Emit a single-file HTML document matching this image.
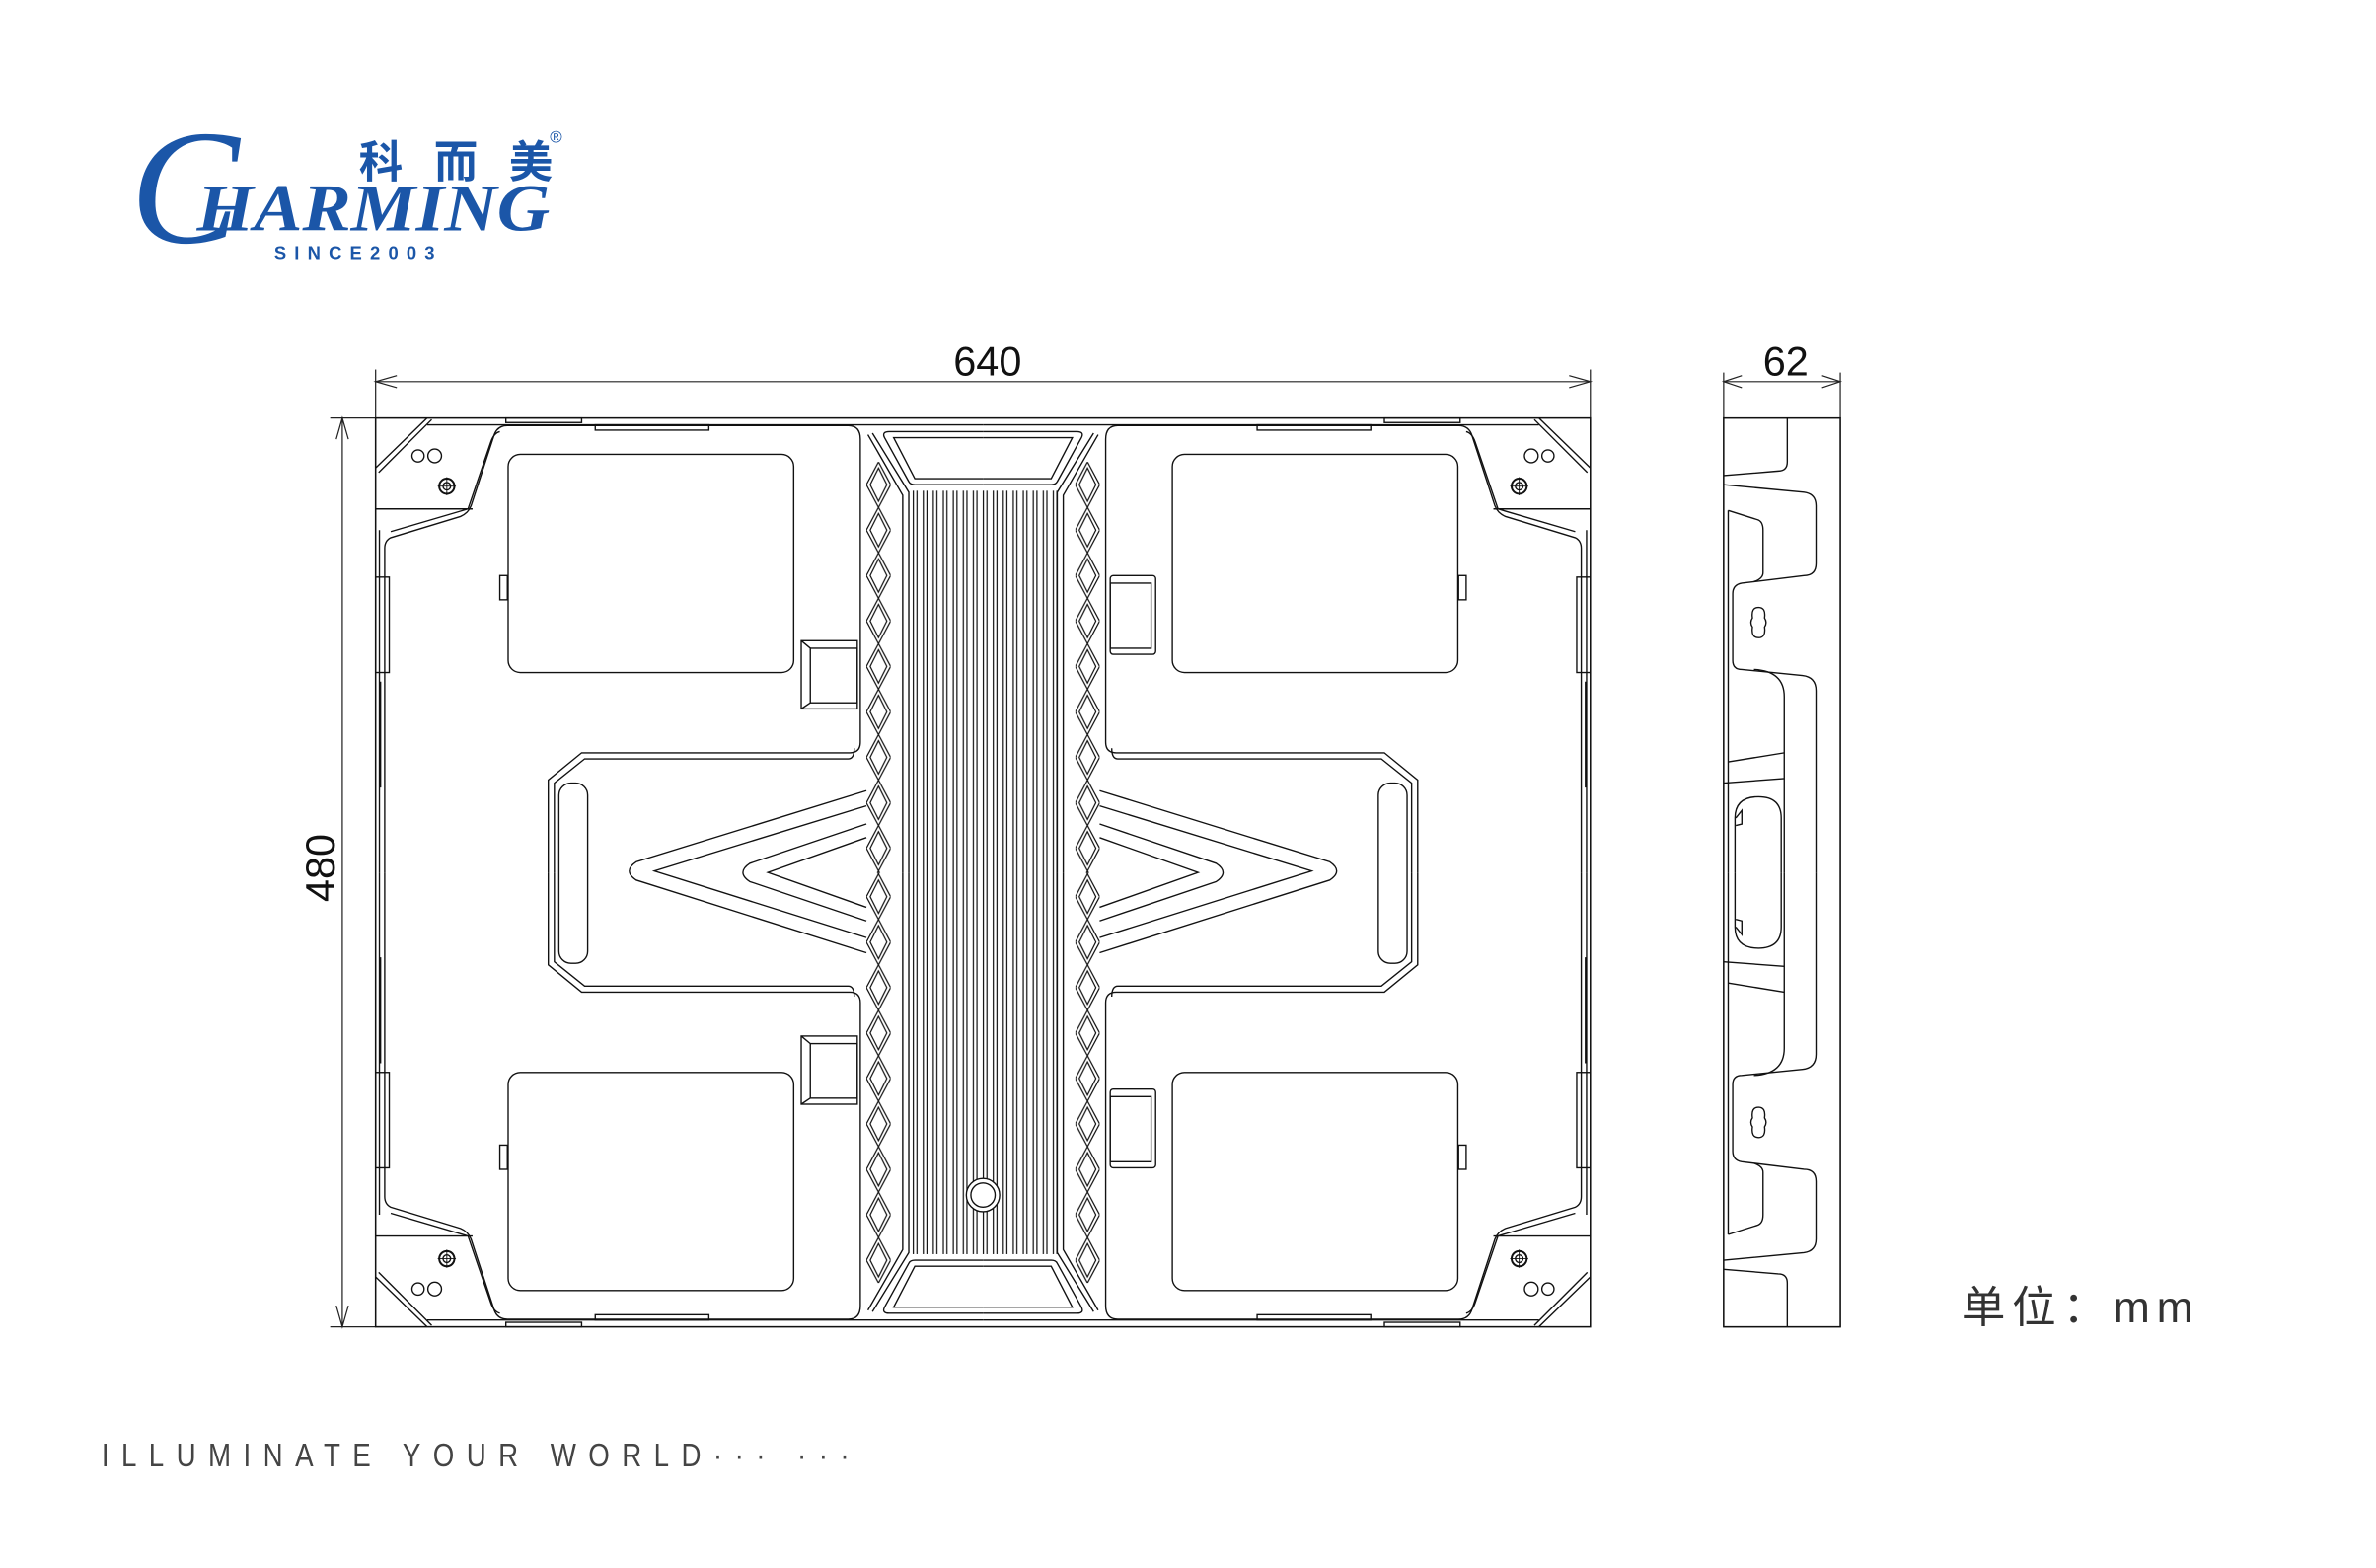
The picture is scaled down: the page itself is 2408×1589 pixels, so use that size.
<!DOCTYPE html>
<html><head><meta charset="utf-8"><style>
html,body{margin:0;padding:0;background:#fff;}
svg{display:block;}
</style></head><body>
<svg xmlns="http://www.w3.org/2000/svg" width="2408" height="1589" viewBox="0 0 1568.7 1035.2" preserveAspectRatio="none">
<defs>
<pattern id="zz" x="572" y="305" width="16" height="30" patternUnits="userSpaceOnUse">
<path d="M8,0 L16,15 L8,30 L0,15 Z M8,4 L13.5,15 L8,26 L2.5,15 Z" fill="none" stroke="#111" stroke-width="0.8"/>
</pattern>
<pattern id="fins" x="602" y="0" width="6.6" height="10" patternUnits="userSpaceOnUse">
<line x1="1" y1="0" x2="1" y2="10" stroke="#111" stroke-width="0.8"/>
<line x1="3.4" y1="0" x2="3.4" y2="10" stroke="#111" stroke-width="0.8"/>
</pattern>
<g id="quarter" fill="none" stroke="#111" stroke-width="0.9">
<path d="M362,576 V515 L384,497 L561,497 Q568,497 568,490 V290 Q568,281 560,281 L335,281 Q328,281 326,288 L311,334 Q309,339 304,341 L258,355 Q254,357 254,362 V576"/>
<path d="M366,576 V517 L386,501 L560,501 Q564,501 564,494" />
<path d="M330,285 Q326,286 324,292 L309,336 L258,351" />
<rect x="335.5" y="300" width="188.5" height="144" rx="8"/>
<rect x="330" y="380" width="5" height="16"/>
<line x1="248" y1="309" x2="282" y2="276"/>
<line x1="250" y1="312" x2="285" y2="277"/>
<line x1="248" y1="336" x2="312" y2="336"/>
<circle cx="276" cy="301" r="4"/>
<circle cx="287" cy="301" r="4.5"/>
<circle cx="295" cy="321" r="5" stroke-width="1.3"/>
<circle cx="295" cy="321" r="2.5"/>
<line x1="289" y1="321" x2="301" y2="321" stroke-width="0.6"/>
<line x1="295" y1="315" x2="295" y2="327" stroke-width="0.6"/>
<line x1="250.5" y1="350" x2="250.5" y2="576"/>
<rect x="248" y="381" width="9" height="63"/>
<line x1="251" y1="450" x2="251" y2="520" stroke-width="1.4"/>
<line x1="282" y1="280.5" x2="649" y2="280.5"/>
<rect x="393" y="280.5" width="75" height="3.5"/>
<rect x="334" y="276" width="50" height="3"/>
<path d="M573,287 L596,327 V576"/>
<path d="M576,286 L600,325 V576"/>
<rect x="572" y="305" width="16" height="271" fill="url(#zz)" stroke="none"/>
<path d="M649,285 H587 Q582,285 584,289 L600,318 Q601,320 604,320 H649"/>
<path d="M649,289 H590 L604,316 H649"/>
</g>
</defs>

<g fill="none" stroke="#222" stroke-width="0.8">
<line x1="248" y1="244" x2="248" y2="276"/>
<line x1="1050" y1="244" x2="1050" y2="276"/>
<line x1="248" y1="252" x2="1050" y2="252"/>
<polyline points="262,248 248,252 262,256"/>
<polyline points="1036,248 1050,252 1036,256"/>
<line x1="218" y1="276" x2="248" y2="276"/>
<line x1="218" y1="876" x2="248" y2="876"/>
<line x1="226" y1="276" x2="226" y2="876"/>
<polyline points="222,290 226,276 230,290"/>
<polyline points="222,862 226,876 230,862"/>
<line x1="1138" y1="246" x2="1138" y2="276"/>
<line x1="1215" y1="246" x2="1215" y2="276"/>
<line x1="1138" y1="252" x2="1215" y2="252"/>
<polyline points="1150,248 1138,252 1150,256"/>
<polyline points="1203,248 1215,252 1203,256"/>
</g>
<text x="652" y="248" font-family="Liberation Sans, DejaVu Sans, sans-serif" font-size="27" text-anchor="middle" fill="#111">640</text>
<text x="1179" y="248" font-family="Liberation Sans, DejaVu Sans, sans-serif" font-size="27" text-anchor="middle" fill="#111">62</text>
<text transform="translate(221,573) rotate(-90)" font-family="Liberation Sans, DejaVu Sans, sans-serif" font-size="27" text-anchor="middle" fill="#111">480</text>

<rect x="248" y="276" width="802" height="600" fill="none" stroke="#111" stroke-width="1"/>
<use href="#quarter"/>
<use href="#quarter" transform="translate(0,1152) scale(1,-1)"/>
<use href="#quarter" transform="translate(1298,0) scale(-1,1)"/>
<use href="#quarter" transform="translate(1298,1152) scale(-1,-1)"/>

<g fill="none" stroke="#111" stroke-width="0.9">
<rect x="602" y="324" width="96" height="504" fill="url(#fins)" stroke="none"/>
<circle cx="649" cy="789" r="11" fill="#fff"/>
<circle cx="649" cy="789" r="8"/>
<rect x="529" y="423" width="37" height="45"/><rect x="535" y="428" width="31" height="36"/>
<line x1="529" y1="423" x2="535" y2="428"/><line x1="529" y1="468" x2="535" y2="464"/>
<rect x="529" y="684" width="37" height="45"/><rect x="535" y="689" width="31" height="36"/>
<line x1="529" y1="684" x2="535" y2="689"/><line x1="529" y1="729" x2="535" y2="725"/>
<rect x="733" y="380" width="30" height="52" rx="2"/><rect x="733" y="385" width="27" height="43"/>
<rect x="733" y="719" width="30" height="52" rx="2"/><rect x="733" y="724" width="27" height="43"/>
<rect x="369" y="517" width="19" height="119" rx="8"/>
<rect x="910" y="517" width="19" height="119" rx="8"/>
<path d="M572,522 L420,569 Q411,575 420,581 L572,629"/>
<path d="M572,532 L432,575 L572,619"/>
<path d="M572,544 L495,570 Q486,576 495,582 L572,608"/>
<path d="M572,553 L507,576 L572,599"/>
<path d="M726,522 L878,569 Q887,575 878,581 L726,629"/>
<path d="M726,532 L866,575 L726,619"/>
<path d="M726,544 L803,570 Q812,576 803,582 L726,608"/>
<path d="M726,553 L791,576 L726,599"/>
</g>

<g id="sideTop" fill="none" stroke="#111" stroke-width="0.9">
<rect x="1138" y="276" width="77" height="600"/>
<path d="M1180,276 V305 Q1180,311 1174,311 L1138,314"/>
<path d="M1138,320 L1191,325 Q1199,326 1199,334 V372 Q1199,380 1191,380 L1150,385 Q1144,386 1144,392 V436 Q1144,442 1150,442 L1190,446 Q1199,447 1199,456 V576"/>
<path d="M1141,337 L1160,343 Q1164,344 1164,350 V378 Q1164,382 1158,384"/>
<path d="M1158,442 Q1178,443 1178,460 V576"/>
<line x1="1141" y1="337" x2="1141" y2="576"/>
<line x1="1141" y1="503" x2="1178" y2="497"/>
<line x1="1138" y1="517" x2="1178" y2="514"/>
<path d="M1145.5,576 V540 Q1145.5,526 1161,526 Q1176,526 1176,540 V576"/>
<path d="M1146,540 L1150,535 V544 L1146,545"/>
<path d="M1161,401 Q1156,401 1157,408 Q1155,411 1157,414 Q1156,421 1161,421 Q1166,421 1165,414 Q1167,411 1165,408 Q1166,401 1161,401 Z"/>
</g>
<use href="#sideTop" transform="translate(0,1152) scale(1,-1)"/>

<text x="1295" y="873" font-family="Liberation Sans, 'Noto Sans CJK SC', sans-serif" font-size="29" fill="#333" textLength="153" lengthAdjust="spacing">单位：mm</text>

<text transform="translate(67,968) scale(0.82,1)" x="0" y="0" font-family="'Liberation Sans', sans-serif" font-size="22" fill="#444" textLength="602" lengthAdjust="spacing">ILLUMINATE YOUR WORLD··· ···</text>

<g fill="#1b56a8">
<text x="86" y="160" font-family="'Liberation Serif', serif" font-style="italic" font-size="108">C</text>
<text x="130" y="152" font-family="'Liberation Serif', serif" font-style="italic" font-weight="bold" font-size="44" textLength="233" lengthAdjust="spacingAndGlyphs">HARMING</text>
<text x="237" y="117" font-family="'Liberation Sans', 'Noto Sans CJK SC', sans-serif" font-weight="bold" font-size="29" textLength="128" lengthAdjust="spacing">科而美</text>
<text x="363" y="94" font-family="'Liberation Sans', sans-serif" font-size="11">®</text>
<text x="181" y="171" font-family="'Liberation Sans', sans-serif" font-weight="bold" font-size="12" textLength="106" lengthAdjust="spacing">SINCE2003</text>
</g>
</svg>
</body></html>
